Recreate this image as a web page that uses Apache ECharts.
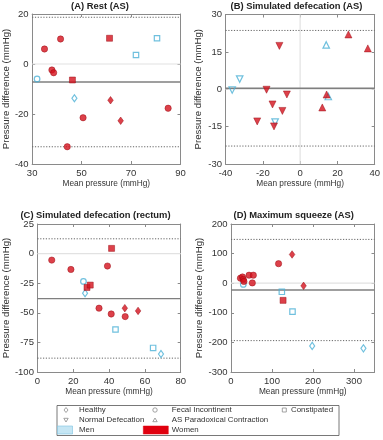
<!DOCTYPE html>
<html><head><meta charset="utf-8">
<script src="https://cdn.jsdelivr.net/npm/echarts@6/dist/echarts.min.js"></script>
<style>html,body{margin:0;padding:0;background:#fff}#c{width:383px;height:440px}</style>
</head><body><div id="c"></div>
<script>
// ---- Panel A: Rest (AS)  [mean pressure, pressure difference] ----
const A_womenFI = [[35,6],[41.5,10],[38,-2.4],[38.7,-3.5],[50.6,-21.5],[85,-17.7],[44.2,-33.1]];
const A_womenCon = [[61.3,10.3],[46.3,-6.4]];
const A_womenHealthy = [[61.7,-14.5],[65.8,-22.7]];
const A_menFI = [[32,-6]];
const A_menCon = [[80.5,10.3],[72,3.6]];
const A_menHealthy = [[47.1,-13.7]];
const A_limits = [-7.2, 18.7, -33.1]; // mean, upper LoA, lower LoA

// ---- Panel B: Simulated defecation (AS) ----
const B_womenND = [[-11.1,17.4],[-18,-0.2],[-7.1,-2.1],[-14.8,-6.1],[-9.5,-8.7],[-23,-12.9],[-14,-14.9]];
const B_menND = [[-36.4,-0.3],[-32.4,4.1],[-13.4,-13.2]];
const B_womenASP = [[25.9,22],[36.3,16.4],[14.2,-2.1],[11.9,-7.3]];
const B_menASP = [[14,17.8],[15.1,-2.9]];
const B_limits = [0.4, 23.6, -22.8];

// ---- Panel C: Simulated defecation (rectum) ----
const C_womenFI = [[8,-5.5],[18.7,-13.4],[39.1,-10.5],[34.4,-46.1],[41.2,-51],[49,-53.2]];
const C_womenCon = [[41.4,4.4],[27.7,-28.6],[29.5,-26.6]];
const C_womenHealthy = [[48.8,-46.1],[56.2,-48.4]];
const C_menFI = [[25.7,-23.5]];
const C_menHealthy = [[26.6,-33.4],[69,-84.8]];
const C_menCon = [[43.6,-64.1],[64.6,-79.7]];
const C_limits = [-38, 12.5, -88.3];

// ---- Panel D: Maximum squeeze (AS) ----
const D_womenFI = [[23,17],[28,21],[30,13],[31.5,6],[44,27],[54.5,27],[52,1],[116,66]];
const D_womenHealthy = [[149,97],[177,-9]];
const D_womenCon = [[127,-58]];
const D_menFI = [[30,-4]];
const D_menCon = [[124,-29],[150,-96]];
const D_menHealthy = [[198,-212],[323,-220]];
const D_limits = [-23, 148, -194];

// axis ranges [min, max, interval]
const A_x = [30, 90, 20], A_y = [-40, 20, 20];
const B_x = [-40, 40, 20], B_y = [-30, 30, 15];
const C_x = [0, 80, 20], C_y = [-100, 25, 25];
const D_x = [0, 350, 100], D_y = [-300, 200, 100];

const titles = [['(A)', ' Rest (AS)'], ['(B)', ' Simulated defecation (AS)'],
                ['(C)', ' Simulated defecation (rectum)'], ['(D)', ' Maximum squeeze (AS)']];
const xName = 'Mean pressure (mmHg)';
const yName = 'Pressure difference (mmHg)';

const SANS = '"Liberation Sans", Arial, Helvetica, sans-serif';
const RED = '#d4111d', RED_EDGE = '#9a0a12', BLUE = '#4bb0d6';
const AXC = '#8a8a8a', TXT = '#333333';

const grids = [
  {left: 30.5, top: 14, width: 150, height: 150},
  {left: 225.5, top: 14.5, width: 150.5, height: 149.5},
  {left: 32.7, top: 224, width: 148, height: 148},
  {left: 231, top: 224, width: 143.5, height: 148}
];
const ranges = [[A_x, A_y], [B_x, B_y], [C_x, C_y], [D_x, D_y]];

const xAxes = [], yAxes = [];
ranges.forEach((r, g) => {
  const [xr, yr] = r;
  const lab = v => (v === xr[1] && (xr[1] - xr[0]) % xr[2] !== 0) ? '' : String(v);
  xAxes.push({type: 'value', gridIndex: g, min: xr[0], max: xr[1], interval: xr[2], position: 'bottom',
    name: xName, nameLocation: 'middle', nameGap: 15,
    nameTextStyle: {fontFamily: SANS, fontSize: 8.3, color: TXT},
    axisLine: {show: true, onZero: false, lineStyle: {color: AXC, width: 1}},
    axisTick: {show: true, inside: true, length: 3, lineStyle: {color: AXC}},
    axisLabel: {fontFamily: SANS, fontSize: 9.5, color: TXT, margin: 4.5, formatter: lab},
    splitLine: {show: false}});
  xAxes.push({type: 'value', gridIndex: g, min: xr[0], max: xr[1], interval: xr[2], position: 'top',
    axisLine: {show: true, onZero: false, lineStyle: {color: AXC, width: 1}},
    axisTick: {show: true, inside: true, length: 3, lineStyle: {color: AXC}},
    axisLabel: {show: false}, splitLine: {show: false}});
  yAxes.push({type: 'value', gridIndex: g, min: yr[0], max: yr[1], interval: yr[2], position: 'left',
    name: yName, nameLocation: 'middle', nameGap: g % 2 === 0 ? 20 : 22, nameRotate: 90,
    nameTextStyle: {fontFamily: SANS, fontSize: 9.6, color: TXT},
    axisLine: {show: true, onZero: false, lineStyle: {color: AXC, width: 1}},
    axisTick: {show: true, inside: true, length: 3, lineStyle: {color: AXC}},
    axisLabel: {fontFamily: SANS, fontSize: 9.5, color: TXT, margin: 3.5},
    splitLine: {show: false}});
  yAxes.push({type: 'value', gridIndex: g, min: yr[0], max: yr[1], interval: yr[2], position: 'right',
    axisLine: {show: true, onZero: false, lineStyle: {color: AXC, width: 1}},
    axisTick: {show: true, inside: true, length: 3, lineStyle: {color: AXC}},
    axisLabel: {show: false}, splitLine: {show: false}});
});

const series = [];
function refLines(g, xr, yr, limits, vertZero) {
  const base = {type: 'line', xAxisIndex: 2 * g, yAxisIndex: 2 * g, symbol: 'none', silent: true, animation: false};
  series.push(Object.assign({}, base, {data: [[xr[0], 0], [xr[1], 0]], z: 1, lineStyle: {color: '#e2e2e2', width: 1.2}}));
  if (vertZero) series.push(Object.assign({}, base, {data: [[0, yr[0]], [0, yr[1]]], z: 1, lineStyle: {color: '#e2e2e2', width: 1.2}}));
  series.push(Object.assign({}, base, {data: [[xr[0], limits[0]], [xr[1], limits[0]]], z: 2, lineStyle: {color: '#7f7f7f', width: 1.3}}));
  series.push(Object.assign({}, base, {data: [[xr[0], limits[1]], [xr[1], limits[1]]], z: 2, lineStyle: {color: '#666', width: 1, type: [1.2, 1.6]}}));
  series.push(Object.assign({}, base, {data: [[xr[0], limits[2]], [xr[1], limits[2]]], z: 2, lineStyle: {color: '#666', width: 1, type: [1.2, 1.6]}}));
}
const SYM = {
  FI: {symbol: 'circle', w: 6.3, m: 5.6},
  Con: {symbol: 'rect', w: 6, m: 5.4},
  Healthy: {symbol: 'diamond', w: [5.5, 7.5], m: [5, 7.2]},
  ND: {symbol: 'triangle', rot: 180, w: 7, m: 6.5},
  ASP: {symbol: 'triangle', rot: 0, w: 7, m: 6.5}
};
function pts(g, data, kind, women) {
  const s = SYM[kind];
  series.push({type: 'scatter', xAxisIndex: 2 * g, yAxisIndex: 2 * g, data: data, z: women ? 4 : 3,
    symbol: s.symbol, symbolRotate: s.rot || 0, symbolSize: women ? s.w : s.m, silent: true,
    itemStyle: women ? {color: RED, borderColor: RED_EDGE, borderWidth: 0.6}
                     : {color: 'rgba(255,255,255,0)', borderColor: BLUE, borderWidth: 1.2}});
}

refLines(0, A_x, A_y, A_limits, false);
pts(0, A_menFI, 'FI', false); pts(0, A_menCon, 'Con', false); pts(0, A_menHealthy, 'Healthy', false);
pts(0, A_womenFI, 'FI', true); pts(0, A_womenCon, 'Con', true); pts(0, A_womenHealthy, 'Healthy', true);

refLines(1, B_x, B_y, B_limits, true);
pts(1, B_menND, 'ND', false); pts(1, B_menASP, 'ASP', false);
pts(1, B_womenND, 'ND', true); pts(1, B_womenASP, 'ASP', true);

refLines(2, C_x, C_y, C_limits, false);
pts(2, C_menFI, 'FI', false); pts(2, C_menHealthy, 'Healthy', false); pts(2, C_menCon, 'Con', false);
pts(2, C_womenFI, 'FI', true); pts(2, C_womenCon, 'Con', true); pts(2, C_womenHealthy, 'Healthy', true);

refLines(3, D_x, D_y, D_limits, false);
pts(3, D_menFI, 'FI', false); pts(3, D_menCon, 'Con', false); pts(3, D_menHealthy, 'Healthy', false);
pts(3, D_womenFI, 'FI', true); pts(3, D_womenHealthy, 'Healthy', true); pts(3, D_womenCon, 'Con', true);

const titleCenters = [[100, 1.5], [296.5, 1.5], [95.5, 210.5], [293.7, 210.5]];
const titleOpts = titles.map((t, i) => ({
  text: '{b|' + t[0] + '}{n|' + t[1] + '}',
  left: titleCenters[i][0], top: titleCenters[i][1], textAlign: 'center', padding: 0,
  textStyle: {rich: {
    b: {fontFamily: SANS, fontSize: 9.4, fontWeight: 'bold', color: '#222'},
    n: {fontFamily: SANS, fontSize: 9.4, color: '#222'}
  }}
}));

// ---- legend (drawn as graphics) ----
const LG = '#8a8a8a';
const legendFont = {fontFamily: SANS, fontSize: 7.9, fill: TXT, verticalAlign: 'middle'};
const legendItems = [
  ['Healthy', 79, 410], ['Fecal Incontinent', 171.7, 410], ['Constipated', 291, 410],
  ['Normal Defecation', 79, 420], ['AS Paradoxical Contraction', 171.7, 420],
  ['Men', 79, 430], ['Women', 171.7, 430]
];
const graphic = [
  {type: 'rect', shape: {x: 57, y: 405.5, width: 282, height: 30}, style: {fill: '#fff', stroke: '#555', lineWidth: 0.8}, z: 0},
  {type: 'polygon', shape: {points: [[66, 407.5], [68, 410], [66, 412.5], [64, 410]]}, style: {fill: 'none', stroke: LG, lineWidth: 0.8}},
  {type: 'circle', shape: {cx: 155, cy: 410, r: 2.2}, style: {fill: 'none', stroke: LG, lineWidth: 0.8}},
  {type: 'rect', shape: {x: 282.3, y: 408, width: 4, height: 4}, style: {fill: 'none', stroke: LG, lineWidth: 0.8}},
  {type: 'polygon', shape: {points: [[63.8, 418.3], [68.2, 418.3], [66, 422]]}, style: {fill: 'none', stroke: LG, lineWidth: 0.8}},
  {type: 'polygon', shape: {points: [[152.8, 421.7], [157.2, 421.7], [155, 418]]}, style: {fill: 'none', stroke: LG, lineWidth: 0.8}},
  {type: 'rect', shape: {x: 57.5, y: 426, width: 15, height: 8}, style: {fill: '#c5e6f4', stroke: '#7cc3e0', lineWidth: 0.6}},
  {type: 'rect', shape: {x: 143.3, y: 426, width: 25, height: 8}, style: {fill: '#e0000f', stroke: '#e0000f', lineWidth: 0.5}}
].concat(legendItems.map(it => ({type: 'text', x: it[1], y: it[2], style: Object.assign({text: it[0]}, legendFont)})));

const chart = echarts.init(document.getElementById('c'), null, {renderer: 'canvas'});
chart.setOption({
  animation: false,
  backgroundColor: '#fff',
  title: titleOpts,
  grid: grids,
  xAxis: xAxes,
  yAxis: yAxes,
  series: series,
  graphic: graphic
});
</script></body></html>
